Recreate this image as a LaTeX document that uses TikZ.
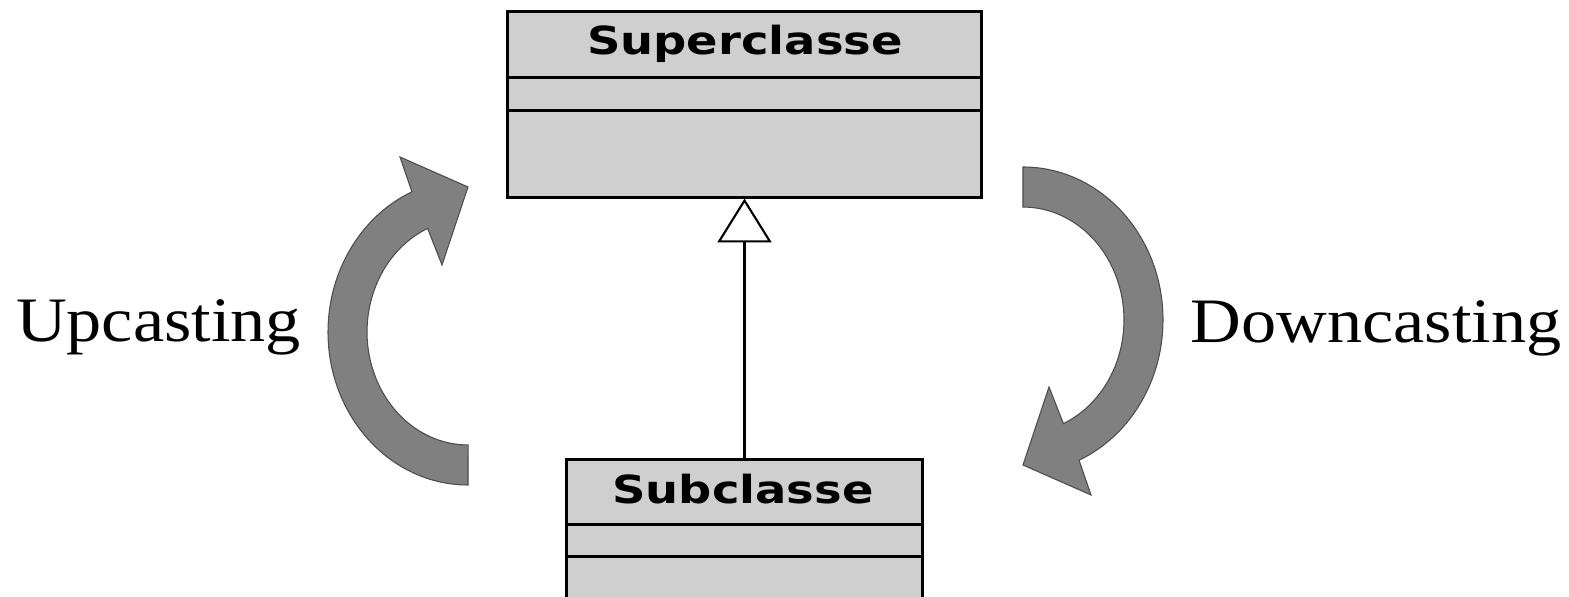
\documentclass[tikz,border=0pt]{standalone}
\usepackage{fontspec}
\usepackage{xcolor}
\usetikzlibrary{arrows.meta, positioning}
\setmainfont{Liberation Serif}
\newfontfamily\castfont[FakeStretch=1.11]{Liberation Serif}
\newfontfamily\umlfont[FakeStretch=1.2]{DejaVu Sans}
\definecolor{boxgray}{RGB}{207,207,207}
\definecolor{castgray}{RGB}{128,128,128}

% thick bent arrow, tail at the bottom and head pointing up-right
\newcommand{\bentarrow}[1]{%
  \draw[#1] (468,112) arc[start angle=270, end angle=113.6, x radius=140, y radius=153]
    -- (400,440) -- (468,410) -- (442,332) -- (427.6,368.6)
    arc[start angle=113.6, end angle=270, x radius=101, y radius=113] -- cycle;}

\begin{document}
\begin{tikzpicture}[
  x=0.01cm, y=0.01cm,
  classbox/.style = {draw, line width=0.85pt, fill=boxgray, inner sep=0pt, minimum height=1.85cm},
  classname/.style = {font=\umlfont\bfseries\fontsize{11}{13}\selectfont, inner sep=0pt},
  castlabel/.style = {font=\castfont\fontsize{18}{21}\selectfont, inner sep=0pt},
  cast/.style = {fill=castgray, draw=black!70, line width=0.3pt, line join=miter},
  inherit/.style = {line width=0.7pt, -{Triangle[length=12.5pt, width=15.4pt, fill=white, line width=0.6pt]}}
]
  \useasboundingbox (0,0) rectangle (1569,597);
  \clip (0,0) rectangle (1569,597);

  % classes
  \node[classbox, minimum width=4.73cm] (super) at (744.5,492.5) {};
  \node[classname, anchor=base] (supername) at (745,542) {Superclasse};
  \draw[line width=0.85pt] ([yshift=-0.67cm]super.north west) -- ([yshift=-0.67cm]super.north east);
  \draw[line width=0.85pt] ([yshift=-1.0cm]super.north west) -- ([yshift=-1.0cm]super.north east);

  \node[classbox, minimum width=3.55cm] (sub) at (744.5,44.5) {};
  \node[classname, anchor=base] (subname) at (743,93) {Subclasse};
  \draw[line width=0.85pt] ([yshift=-0.66cm]sub.north west) -- ([yshift=-0.66cm]sub.north east);
  \draw[line width=0.85pt] ([yshift=-0.98cm]sub.north west) -- ([yshift=-0.98cm]sub.north east);

  \draw[inherit] (sub.north) -- (super.south);

  % casting directions
  \bentarrow{cast}
  \bentarrow{cast, rotate around={180:(745.5,271)}}

  \node[castlabel, anchor=base] (up) at (158.5,255) {Upcasting};
  \node[castlabel, anchor=base] (down) at (1376,254) {Downcasting};
\end{tikzpicture}
\end{document}
